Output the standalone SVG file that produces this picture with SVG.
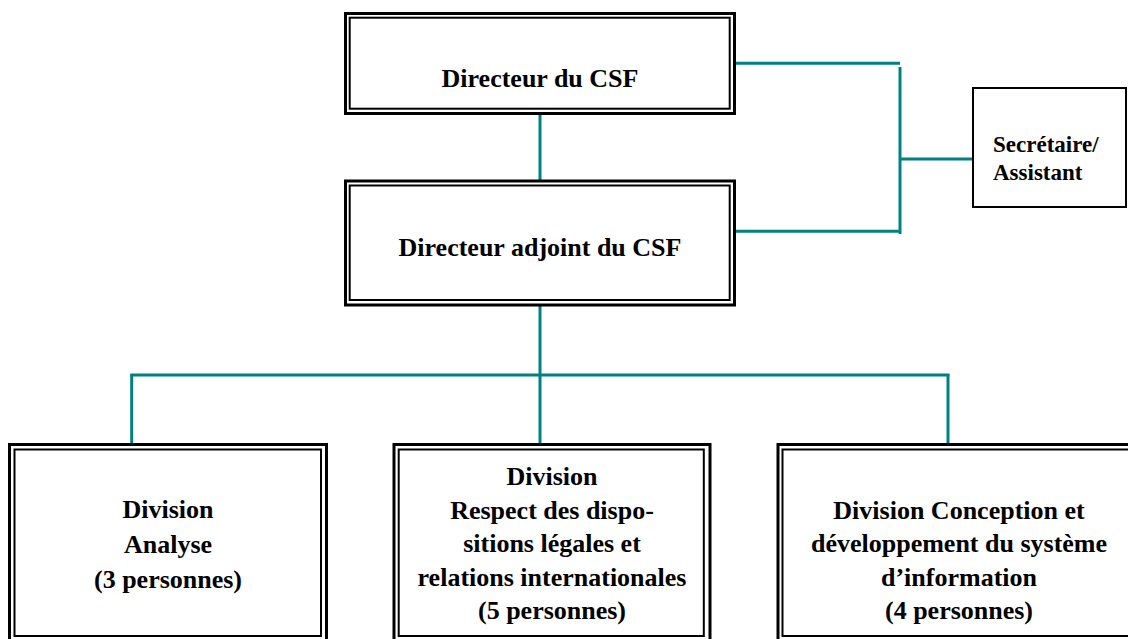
<svg xmlns="http://www.w3.org/2000/svg" width="1128" height="639" viewBox="0 0 1128 639">
<style>
.bg{fill:#ffffff}
.outer{fill:#ffffff;stroke:#000000;stroke-width:3}
.inner{fill:none;stroke:#000000;stroke-width:2}
.single{fill:#ffffff;stroke:#000000;stroke-width:2}
.lbl{font-family:"Liberation Serif","Times New Roman",serif;font-weight:bold;font-size:26px;fill:#000000;text-anchor:middle}
.sec{font-family:"Liberation Serif","Times New Roman",serif;font-weight:bold;font-size:23px;fill:#000000}
.conn{stroke:#008080;stroke-width:3;fill:none}
</style>
<rect class="bg" x="0" y="0" width="1128" height="639"/>
<g id="connectors">
<line class="conn" x1="540" y1="115" x2="540" y2="180"/>
<line class="conn" x1="734" y1="63.3" x2="900" y2="63.3"/>
<line class="conn" x1="900" y1="67" x2="900" y2="234"/>
<line class="conn" x1="734" y1="231.2" x2="900" y2="231.2"/>
<line class="conn" x1="900" y1="159" x2="973" y2="159"/>
<line class="conn" x1="540" y1="306" x2="540" y2="446"/>
<line class="conn" x1="130.2" y1="375" x2="949.5" y2="375"/>
<line class="conn" x1="131.7" y1="375" x2="131.7" y2="446"/>
<line class="conn" x1="948" y1="375" x2="948" y2="446"/>
</g>
<g id="directeur">
<rect class="outer" x="345.5" y="13.5" width="389" height="100"/>
<rect class="inner" x="349.7" y="17.7" width="380" height="91"/>
<text class="lbl" x="540" y="87">Directeur du CSF</text>
</g>
<g id="directeur-adjoint">
<rect class="outer" x="345.5" y="181" width="389" height="124"/>
<rect class="inner" x="349.7" y="185.5" width="380" height="114.5"/>
<text class="lbl" x="540" y="256">Directeur adjoint du CSF</text>
</g>
<g id="secretaire">
<rect class="single" x="973" y="88" width="153" height="119"/>
<text class="sec" x="993" y="152">Secrétaire/</text>
<text class="sec" x="993" y="180">Assistant</text>
</g>
<g id="division-analyse">
<rect class="outer" x="9.5" y="444.5" width="317" height="200"/>
<rect class="inner" x="14.5" y="449.5" width="306.5" height="186.5"/>
<text class="lbl" x="168" y="518">Division</text>
<text class="lbl" x="168" y="553">Analyse</text>
<text class="lbl" x="168" y="588">(3 personnes)</text>
</g>
<g id="division-respect">
<rect class="outer" x="394" y="444.5" width="316" height="200"/>
<rect class="inner" x="398.7" y="449.5" width="305.1" height="186.5"/>
<text class="lbl" x="552" y="485">Division</text>
<text class="lbl" x="552" y="518.5">Respect des dispo-</text>
<text class="lbl" x="552" y="552">sitions légales et</text>
<text class="lbl" x="552" y="585.5">relations internationales</text>
<text class="lbl" x="552" y="619">(5 personnes)</text>
</g>
<g id="division-conception">
<rect class="outer" x="778" y="444.5" width="362" height="200"/>
<rect class="inner" x="782.5" y="449.5" width="353" height="186.5"/>
<text class="lbl" x="959" y="518.5">Division Conception et</text>
<text class="lbl" x="959" y="552">développement du système</text>
<text class="lbl" x="959" y="585.5">d’information</text>
<text class="lbl" x="959" y="619">(4 personnes)</text>
</g>
</svg>
